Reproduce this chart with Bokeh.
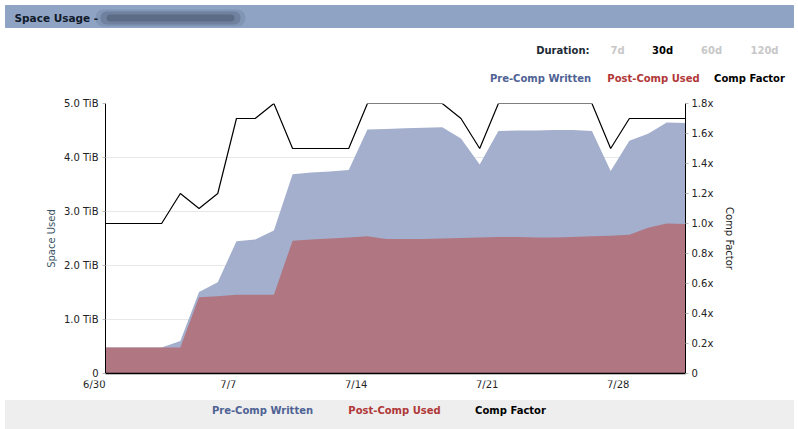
from bokeh.plotting import figure
from bokeh.models import Range1d, LinearAxis, FixedTicker, Label, BoxAnnotation
from bokeh.layouts import column
from bokeh.embed import file_html
from bokeh.resources import INLINE

# ---- data ----
days = list(range(32))  # 6/30 .. 7/31
pre_comp = [0.48, 0.48, 0.48, 0.48, 0.60, 1.51, 1.69, 2.45, 2.48, 2.65,
            3.69, 3.72, 3.74, 3.77, 4.52, 4.53, 4.54, 4.55, 4.56, 4.35,
            3.87, 4.49, 4.50, 4.50, 4.51, 4.51, 4.49, 3.75, 4.31, 4.44,
            4.65, 4.64]
post_comp = [0.48, 0.48, 0.48, 0.48, 0.48, 1.41, 1.43, 1.46, 1.46, 1.46,
             2.46, 2.48, 2.50, 2.52, 2.54, 2.49, 2.49, 2.49, 2.50, 2.51,
             2.52, 2.53, 2.53, 2.52, 2.52, 2.53, 2.54, 2.55, 2.57, 2.70,
             2.78, 2.77]
comp_factor = [1.0, 1.0, 1.0, 1.0, 1.2, 1.1, 1.2, 1.7, 1.7, 1.8,
               1.5, 1.5, 1.5, 1.5, 1.8, 1.8, 1.8, 1.8, 1.8, 1.7,
               1.5, 1.8, 1.8, 1.8, 1.8, 1.8, 1.8, 1.5, 1.7, 1.7,
               1.7, 1.7]
x_ticks = [0, 7, 14, 21, 28]
x_labels = ["6/30", "7/7", "7/14", "7/21", "7/28"]
left_ticks = [0, 1, 2, 3, 4, 5]
left_labels = ["0", "1.0 TiB", "2.0 TiB", "3.0 TiB", "4.0 TiB", "5.0 TiB"]
right_ticks = [0, 0.2, 0.4, 0.6, 0.8, 1.0, 1.2, 1.4, 1.6, 1.8]
right_labels = ["0", "0.2x", "0.4x", "0.6x", "0.8x", "1.0x", "1.2x", "1.4x", "1.6x", "1.8x"]
series_names = ["Pre-Comp Written", "Post-Comp Used", "Comp Factor"]
durations = ["7d", "30d", "60d", "120d"]

W = 798
FL, FR, FT, FB = 105, 685, 103, 373   # plot frame edges (page pixels)
TOP_H = 96          # header panel: page y 0..96
MAIN_TOP, MAIN_BOT = 96, 380
BOT_H = 429 - MAIN_BOT
XMAX, YMAX = 31, 5.0
SC = (FR - FL) / XMAX   # pixels per day
BLUE_FILL = "#a3afcc"
RED_FILL = "#b07682"
BLUE_TXT = "#4f6294"
RED_TXT = "#b03838"
FONT = "DejaVu Sans"


def blank_fig(h, xr, yr):
    f = figure(width=W, height=h, x_range=xr, y_range=yr,
               output_backend="svg", toolbar_location=None,
               min_border=0, min_border_left=0, min_border_right=0,
               min_border_top=0, min_border_bottom=0)
    f.axis.visible = False
    f.grid.visible = False
    f.outline_line_color = None
    f.background_fill_color = "white"
    f.border_fill_color = "white"
    return f


def put_text(f, x, y, text, size="10px", bold=True, color="#000000", align="left"):
    f.add_layout(Label(x=x, y=y, text=text, text_font=FONT,
                       text_font_style="bold" if bold else "normal",
                       text_font_size=size, text_color=color, text_align=align,
                       text_baseline="middle"))


def smear(f, l, r, t, b, alpha, radius):
    f.add_layout(BoxAnnotation(left=l, right=r, top=t, bottom=b, fill_color="#343d50",
                               fill_alpha=alpha, line_color=None, border_radius=radius))


# ================= header panel (x,y in page pixels) =================
top = blank_fig(TOP_H, Range1d(0, W), Range1d(TOP_H, 0))
top.quad(left=5, right=793, top=5, bottom=27, color="#8fa3c5")
smear(top, 95, 245, 9, 26, 0.14, 8)
smear(top, 100, 240, 11, 24, 0.22, 6)
smear(top, 106, 234, 14, 21, 0.30, 4)
put_text(top, 14, 17, "Space Usage -", size="10.5px", color="#101a28")
put_text(top, 589, 50, "Duration:", color="#1c2b36", align="right")
for d, xx in zip(durations, [617, 662, 711, 764]):
    put_text(top, xx, 50, d, color="#000000" if d == "30d" else "#c8c8c8", align="center")
leg_cols = [BLUE_TXT, RED_TXT, "#000000"]
for name, xx, c in zip(series_names, [540, 653, 749], leg_cols):
    put_text(top, xx, 78, name, color=c, align="center")

# ================= main chart =================
p = figure(width=W, height=MAIN_BOT - MAIN_TOP, x_range=Range1d(0, XMAX),
           y_range=Range1d(0, YMAX), output_backend="svg", toolbar_location=None,
           min_border_left=FL, min_border_right=W - FR,
           min_border_top=FT - MAIN_TOP, min_border_bottom=MAIN_BOT - FB)
p.extra_y_ranges = {"cf": Range1d(0, 1.8)}
p.outline_line_color = None
p.xgrid.visible = False
p.ygrid.grid_line_color = "#e8e8e8"
p.background_fill_color = "white"
p.border_fill_color = "white"

p.varea(x=days, y1=0, y2=pre_comp, color=BLUE_FILL)
p.varea(x=days, y1=0, y2=post_comp, color=RED_FILL)
p.line(x=days, y=comp_factor, y_range_name="cf", line_color="black", line_width=1.2)

xa = p.xaxis[0]
xa.ticker = FixedTicker(ticks=x_ticks)
xa.major_label_text_font_size = "0px"
xa.major_label_text_color = None
xa.major_label_standoff = 0
xa.major_tick_line_color = None
xa.minor_tick_line_color = None
xa.axis_line_color = "black"
xa.axis_line_width = 1.5

ya = p.yaxis[0]
ya.ticker = FixedTicker(ticks=left_ticks)
ya.major_label_overrides = {t: l for t, l in zip(left_ticks, left_labels)}
ya.axis_label = "Space Used"
ya.axis_label_text_color = "#3c5566"
ya.axis_label_standoff = 4
ya.major_tick_out = 3
ya.major_tick_in = 0
ya.minor_tick_line_color = None
ya.major_tick_line_color = "#bbbbbb"
ya.axis_line_color = "black"
ya.major_label_standoff = 4

ra = LinearAxis(y_range_name="cf", ticker=FixedTicker(ticks=right_ticks))
ra.major_label_overrides = {t: l for t, l in zip(right_ticks, right_labels)}
ra.axis_label = "Comp Factor"
ra.axis_label_text_color = "#222222"
ra.axis_label_standoff = 8
ra.major_tick_out = 3
ra.major_tick_in = 0
ra.minor_tick_line_color = None
ra.major_tick_line_color = "#bbbbbb"
ra.axis_line_color = "black"
ra.major_label_standoff = 3
p.add_layout(ra, "right")

for ax in [ya, ra]:
    ax.major_label_text_font = FONT
    ax.major_label_text_font_size = "10px"
    ax.major_label_text_color = "#222222"
    ax.axis_label_text_font = FONT
    ax.axis_label_text_font_size = "10px"
    ax.axis_label_text_font_style = "normal"

# ================= footer panel (x in days, y in page pixels) =================
bot = blank_fig(BOT_H, Range1d(-FL / SC, XMAX + (W - FR) / SC), Range1d(429, MAIN_BOT))


def dx(x):  # page pixel -> day units in footer
    return (x - FL) / SC


# x tick labels, right-aligned at their dates
for t, l in zip(x_ticks, x_labels):
    put_text(bot, t, 384, l, bold=False, color="#222222", align="right")
bot.quad(left=dx(5), right=dx(793), top=400, bottom=429, color="#eeeeee")
for name, xx, c in zip(series_names, [262, 394, 510], leg_cols):
    put_text(bot, dx(xx), 410, name, color=c, align="center")

layout = column(top, column(p), bot, spacing=0)
open("out.html", "w").write(file_html(layout, INLINE))
